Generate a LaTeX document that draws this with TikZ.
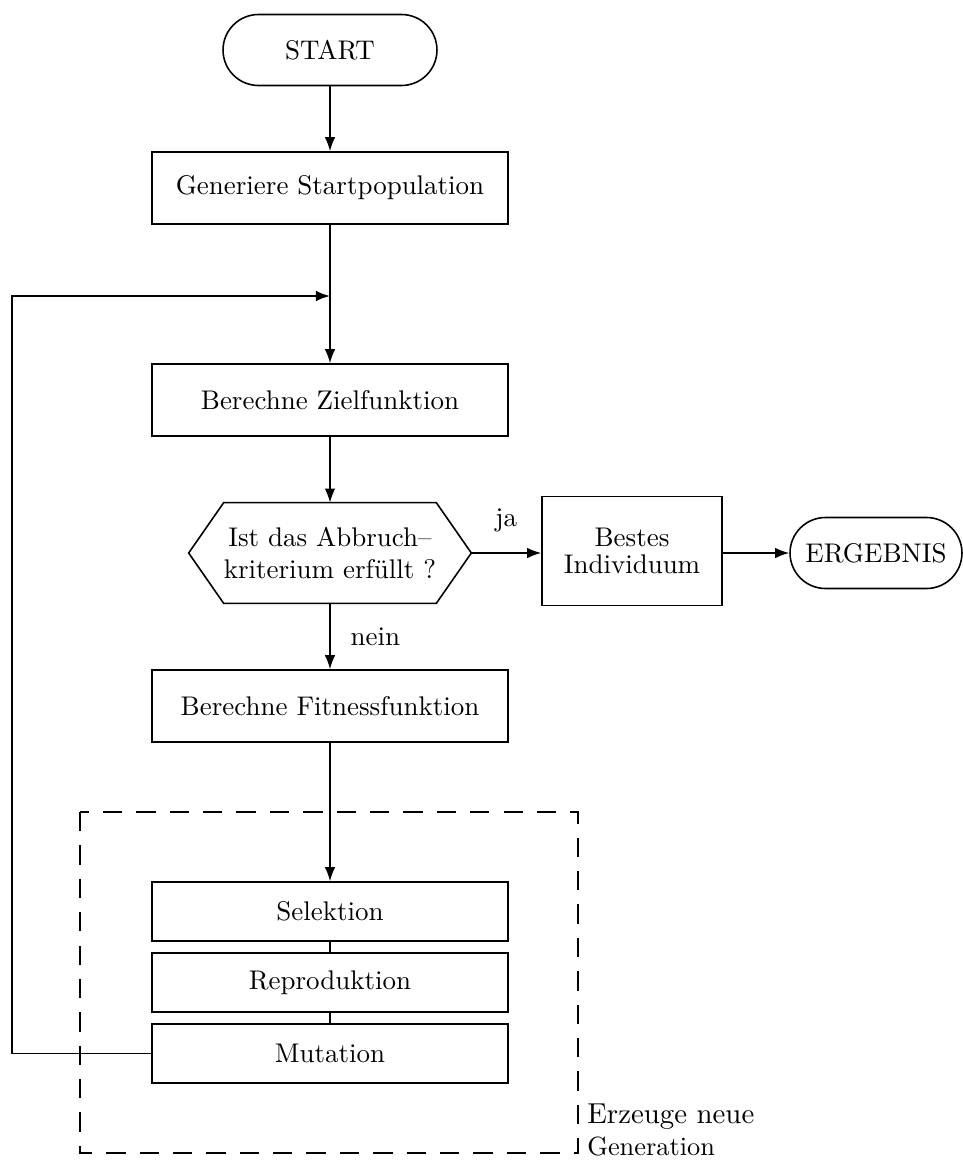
\documentclass[tikz,border=0pt]{standalone}
\usetikzlibrary{arrows.meta}
\font\lmten="[lmroman10-regular.otf]" at 15.35pt
\font\lmtenb="[lmroman10-regular.otf]" at 16.4pt
\font\lmtenc="[lmroman10-regular.otf]" at 15pt
\begin{document}
\begin{tikzpicture}[x=0.02cm,y=-0.02cm,
  every node/.style={font=\fontsize{15.35}{18}\selectfont\lmten},
  box/.style={draw, line width=0.9pt, minimum width=7.12cm, minimum height=1.44cm, inner sep=0pt, align=center},
  gbox/.style={box, minimum height=1.18cm},
  term/.style={draw, line width=0.9pt, rounded corners=0.71cm, minimum height=1.42cm, inner sep=0pt},
  arr/.style={line width=0.9pt, -{Latex[length=8pt,width=6pt]}},
  ln/.style={line width=0.9pt}]
\useasboundingbox (0,0) rectangle (963,1160);
\node[term, minimum width=4.28cm] (start) at (330,50) {START};
\node[box] (gen) at (330,188) {Generiere Startpopulation};
\coordinate (j) at (330,296);
\node[box] (ziel) at (330,400) {Berechne Zielfunktion};
\node[inner sep=0pt, minimum width=5.64cm, minimum height=2cm, align=center] (hex) at (330,553) {Ist das Abbruch–\\kriterium erfüllt ?};
\draw[ln, line join=miter] (hex.west) -- ([xshift=0.7cm]hex.north west) -- ([xshift=-0.7cm]hex.north east) -- (hex.east) -- ([xshift=-0.7cm]hex.south east) -- ([xshift=0.7cm]hex.south west) -- cycle;
\node[box, minimum width=3.6cm, minimum height=2.18cm] (best) at (632,551) {Bestes\\[-3pt]Individuum};
\node[term, minimum width=3.44cm] (erg) at (876,553) {ERGEBNIS};
\node[box] (fit) at (330,706) {Berechne Fitnessfunktion};
\node[gbox] (sel) at (330,911.5) {Selektion};
\node[gbox] (rep) at (330,982.5) {Reproduktion};
\node[gbox] (mut) at (330,1053.5) {Mutation};
\coordinate (fb) at (12,1053.5);
\draw[line width=0.9pt, dash pattern=on 11pt off 8pt] (80,812) rectangle (578,1153);
\node[anchor=north west, align=left, inner sep=0pt] (lab) at (587,1104) {{\lmtenb Erzeuge neue}\\{\lmtenc Generation}};
\draw[arr] (start) -- (gen);
\draw[arr] (gen) -- (ziel);
\draw[arr] (ziel) -- (hex);
\draw[arr] (hex.east) -- node[above=8pt] (ja) {ja} (best.west |- hex.east);
\draw[arr] (best.east |- erg.west) -- (erg);
\draw[arr] (hex) -- node[right=8pt] (nein) {nein} (fit);
\draw[arr] (fit) -- (sel);
\draw[ln] (sel) -- (rep);
\draw[ln] (rep) -- (mut);
\draw[arr] (mut.west) -- (fb) |- (j);
\end{tikzpicture}
\end{document}
